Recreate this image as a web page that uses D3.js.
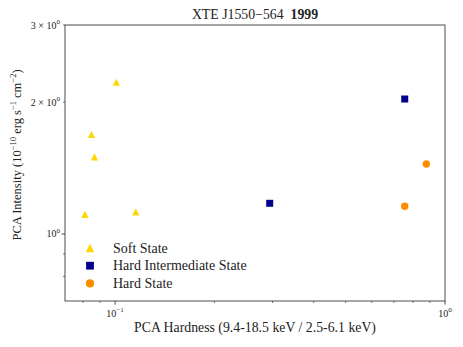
<!DOCTYPE html>
<html>
<head>
<meta charset="utf-8">
<script src="https://cdn.jsdelivr.net/npm/d3@7"></script>
<style>
    body { margin: 0; background: #fff; }
    text { font-family: "Liberation Serif", "DejaVu Serif", serif; fill: #222; }
</style>
</head>
<body>
<div id="chart"></div>
<script>
// values (hardness, intensity)
const softHardness = [0.1009, 0.0848, 0.0866, 0.0810, 0.1155];
const softIntensity = [2.22, 1.687, 1.499, 1.108, 1.123];
const himsHardness = [0.755, 0.2942];
const himsIntensity = [2.033, 1.175];
const hardHardness = [0.878, 0.755];
const hardIntensity = [1.445, 1.157];

const xMajorTicks = [0.1, 1];
const xMinorTicks = [0.08, 0.09, 0.2, 0.3, 0.4, 0.5, 0.6, 0.7, 0.8, 0.9];
const yMajorTicks = [1];
const yMinorTicks = [0.8, 0.9, 2, 3];
const yLabeledMinor = { 2: "2", 3: "3" };

const legendNames = ["Soft State", "Hard Intermediate State", "Hard State"];

var margin = { top: 25, right: 18, bottom: 46, left: 65 },
    width = 463 - margin.left - margin.right,
    height = 347 - margin.top - margin.bottom;

var x = d3.scaleLog().domain([0.0705, 1]).range([0, width]);
var y = d3.scaleLog().domain([0.703, 3]).range([height, 0]);

var svg = d3.select("#chart")
    .append("svg")
    .attr("width", 463)
    .attr("height", 347)
    .append("g")
    .attr("transform", `translate(${margin.left},${margin.top})`);

// superscript helper: base text + exponent
function powerLabel(sel, prefix, exp) {
    sel.append("tspan").text(prefix + "10");
    sel.append("tspan").attr("dy", -4.5).attr("font-size", "7px").text(exp);
}

// x axis ticks
var xAxis = svg.append("g").attr("transform", `translate(0,${height})`);
xMajorTicks.forEach((t) => {
    xAxis.append("line").attr("x1", x(t)).attr("x2", x(t)).attr("y1", 0).attr("y2", 3.5)
        .attr("stroke", "#222").attr("stroke-width", 0.8);
    var lab = xAxis.append("text").attr("x", x(t)).attr("y", 15.5)
        .attr("text-anchor", "middle").attr("font-size", "10px");
    powerLabel(lab, "", t == 1 ? "0" : "\u22121");
});
xMinorTicks.forEach((t) => {
    xAxis.append("line").attr("x1", x(t)).attr("x2", x(t)).attr("y1", 0).attr("y2", 2)
        .attr("stroke", "#222").attr("stroke-width", 0.6);
});

// y axis ticks
var yAxis = svg.append("g");
yMajorTicks.forEach((t) => {
    yAxis.append("line").attr("x1", -3.5).attr("x2", 0).attr("y1", y(t)).attr("y2", y(t))
        .attr("stroke", "#222").attr("stroke-width", 0.8);
    var lab = yAxis.append("text").attr("x", -5).attr("y", y(t) + 3.5)
        .attr("text-anchor", "end").attr("font-size", "10px");
    powerLabel(lab, "", "0");
});
yMinorTicks.forEach((t) => {
    yAxis.append("line").attr("x1", -2).attr("x2", 0).attr("y1", y(t)).attr("y2", y(t))
        .attr("stroke", "#222").attr("stroke-width", 0.6);
    if (yLabeledMinor[t]) {
        var lab = yAxis.append("text").attr("x", -5).attr("y", y(t) + 3.5)
            .attr("text-anchor", "end").attr("font-size", "10px");
        powerLabel(lab, yLabeledMinor[t] + " \u00d7 ", "0");
    }
});

// frame
svg.append("rect").attr("width", width).attr("height", height)
    .attr("fill", "none").attr("stroke", "#222").attr("stroke-width", 0.8);

// markers (matplotlib-like shapes)
const triPath = (r) => `M0,${-r}L${r},${r}L${-r},${r}Z`;
const drawTri = (g, r) => g.append("path").attr("d", triPath(r)).attr("fill", "#FFD700");
const drawSq = (g, r) => g.append("rect").attr("x", -r).attr("y", -r)
    .attr("width", 2 * r).attr("height", 2 * r).attr("fill", "#00008B");
const drawCirc = (g, r) => g.append("circle").attr("r", r).attr("fill", "#FF8C00");

softHardness.forEach((h, i) => {
    drawTri(svg.append("g").attr("transform", `translate(${x(h)},${y(softIntensity[i])})`), 3.6);
});
himsHardness.forEach((h, i) => {
    drawSq(svg.append("g").attr("transform", `translate(${x(h)},${y(himsIntensity[i])})`), 3.5);
});
hardHardness.forEach((h, i) => {
    drawCirc(svg.append("g").attr("transform", `translate(${x(h)},${y(hardIntensity[i])})`), 3.7);
});

// legend
var legend = svg.append("g").attr("transform", "translate(25,223)");
const drawers = [drawTri, drawSq, drawCirc];
const sizes = [4.2, 3.9, 4.1];
legendNames.forEach((name, i) => {
    var row = legend.append("g").attr("transform", `translate(0,${i * 17.7})`);
    drawers[i](row, sizes[i]);
    row.append("text").attr("x", 23).attr("y", 4.5).attr("font-size", "14px").text(name);
});

// axis labels
svg.append("text")
    .attr("x", width / 2).attr("y", height + 31)
    .attr("text-anchor", "middle").attr("font-size", "13.8px")
    .text("PCA Hardness (9.4-18.5 keV / 2.5-6.1 keV)");

var yl = svg.append("text")
    .attr("transform", `translate(-44,${height / 2 - 8}) rotate(-90)`)
    .attr("text-anchor", "middle").attr("font-size", "12.5px");
yl.append("tspan").text("PCA Intensity (10");
yl.append("tspan").attr("dy", -5).attr("font-size", "8.5px").text("\u221210");
yl.append("tspan").attr("dy", 5).text(" erg s");
yl.append("tspan").attr("dy", -5).attr("font-size", "8.5px").text("\u22121");
yl.append("tspan").attr("dy", 5).text(" cm");
yl.append("tspan").attr("dy", -5).attr("font-size", "8.5px").text("\u22122");
yl.append("tspan").attr("dy", 5).text(")");

// title
var title = svg.append("text")
    .attr("x", width / 2).attr("y", -6)
    .attr("text-anchor", "middle").attr("font-size", "13.8px");
title.append("tspan").text("XTE J1550\u2212564\u2002");
title.append("tspan").attr("font-weight", "bold").text("1999");
</script>
</body>
</html>
